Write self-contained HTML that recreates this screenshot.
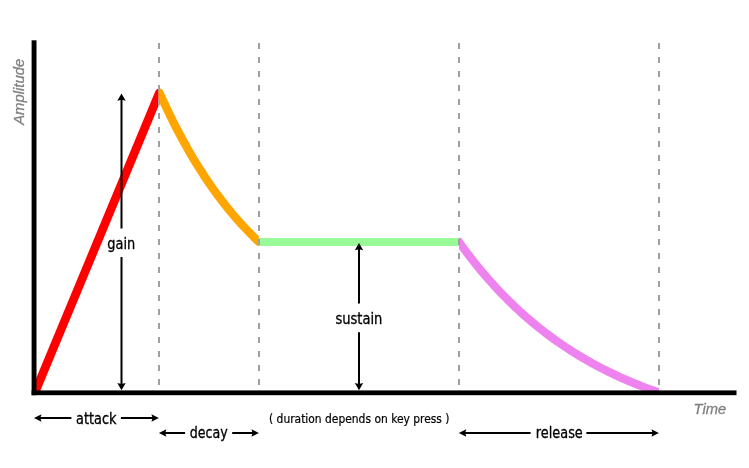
<!DOCTYPE html>
<html lang="en">
<head>
<meta charset="utf-8">
<title>ADSR envelope</title>
<style>
html,body{margin:0;padding:0;background:#fff;}
body{width:749px;height:468px;overflow:hidden;}
svg{display:block;}
.lbl{font-family:"DejaVu Sans Condensed","DejaVu Sans","Liberation Sans",sans-serif;font-stretch:condensed;font-size:15px;fill:#000;stroke:#000;stroke-width:0.3px;text-anchor:middle;}
.note{font-family:"DejaVu Sans Condensed","DejaVu Sans","Liberation Sans",sans-serif;font-stretch:condensed;font-size:12px;fill:#000;stroke:#000;stroke-width:0.2px;}
.axis{font-family:"Liberation Sans",Arial,Helvetica,sans-serif;font-style:italic;font-size:15px;fill:#808080;stroke:#808080;stroke-width:0.3px;}
</style>
</head>
<body>
<svg width="749" height="468" viewBox="0 0 749 468">
<defs>
<clipPath id="c1"><rect x="34" y="0" width="124.6" height="392"/></clipPath>
<clipPath id="c2"><rect x="158.6" y="0" width="100.3" height="468"/></clipPath>
<clipPath id="c4"><rect x="459" y="0" width="200" height="392"/></clipPath>
</defs>
<rect width="749" height="468" fill="#fff"/>
<g fill="none" stroke-width="8" stroke-linejoin="round" stroke-linecap="butt">
<path d="M34.90,392.60 L159.40,92.60 L161.06,96.30 L162.72,99.95 L164.38,103.55 L166.04,107.09" stroke="#ff0000" stroke-width="8.6" clip-path="url(#c1)"/>
<path d="M34.90,392.60 L159.40,92.60 L161.06,96.30 L162.72,99.95 L164.38,103.55 L166.04,107.09 L167.70,110.58 L169.36,114.02 L171.02,117.42 L172.68,120.76 L174.34,124.06 L176.00,127.31 L177.66,130.51 L179.32,133.66 L180.98,136.77 L182.64,139.84 L184.30,142.86 L185.96,145.84 L187.62,148.77 L189.28,151.67 L190.94,154.52 L192.60,157.33 L194.26,160.10 L195.92,162.83 L197.58,165.52 L199.24,168.17 L200.90,170.78 L202.56,173.36 L204.22,175.90 L205.88,178.40 L207.54,180.87 L209.20,183.30 L210.86,185.69 L212.52,188.05 L214.18,190.38 L215.84,192.67 L217.50,194.93 L219.16,197.16 L220.82,199.36 L222.48,201.52 L224.14,203.66 L225.80,205.76 L227.46,207.83 L229.12,209.87 L230.78,211.89 L232.44,213.87 L234.10,215.83 L235.76,217.75 L237.42,219.65 L239.08,221.53 L240.74,223.37 L242.40,225.19 L244.06,226.98 L245.72,228.75 L247.38,230.49 L249.04,232.21 L250.70,233.90 L252.36,235.57 L254.02,237.21 L255.68,238.83 L257.34,240.43 L259.00,242.00 L271.00,242.00" stroke="#ffa500" stroke-width="8.3" clip-path="url(#c2)"/>
<path d="M258.9,242 H459" stroke="#98fb98"/>
<path d="M444.00,242.00 L459.00,242.00 L462.33,246.61 L465.67,251.11 L469.00,255.51 L472.33,259.81 L475.67,264.01 L479.00,268.11 L482.33,272.12 L485.67,276.04 L489.00,279.86 L492.33,283.60 L495.67,287.25 L499.00,290.82 L502.33,294.30 L505.67,297.71 L509.00,301.03 L512.33,304.28 L515.67,307.45 L519.00,310.55 L522.33,313.58 L525.67,316.54 L529.00,319.43 L532.33,322.26 L535.67,325.02 L539.00,327.71 L542.33,330.35 L545.67,332.92 L549.00,335.43 L552.33,337.89 L555.67,340.29 L559.00,342.63 L562.33,344.92 L565.67,347.15 L569.00,349.34 L572.33,351.47 L575.67,353.56 L579.00,355.60 L582.33,357.59 L585.67,359.53 L589.00,361.43 L592.33,363.29 L595.67,365.10 L599.00,366.87 L602.33,368.60 L605.67,370.29 L609.00,371.94 L612.33,373.56 L615.67,375.13 L619.00,376.67 L622.33,378.18 L625.67,379.65 L629.00,381.08 L632.33,382.48 L635.67,383.85 L639.00,385.19 L642.33,386.50 L645.67,387.78 L649.00,389.03 L652.33,390.25 L655.67,391.44 L659.00,392.60" stroke="#ee82ee" stroke-width="8.3" stroke-linejoin="miter" stroke-miterlimit="10" clip-path="url(#c4)"/>
</g>
<rect x="31.6" y="40.3" width="4.9" height="354.9" fill="#000"/>
<rect x="31.6" y="390.4" width="704.9" height="4.8" fill="#000"/>
<g stroke="#a0a0a0" stroke-width="2" stroke-dasharray="6 8" fill="none"><line x1="159" y1="43" x2="159" y2="390" /><line x1="259" y1="43" x2="259" y2="390" /><line x1="459" y1="43" x2="459" y2="390" /><line x1="659" y1="43" x2="659" y2="390" /></g>
<path d="M121.5,97.4 V228.6 M121.5,257 V386.3" stroke="#000" stroke-width="2" fill="none"/><polygon points="121.5,93.4 117.3,100.7 121.5,99.7 125.7,100.7"/><polygon points="121.5,390.3 117.3,383.0 121.5,384.0 125.7,383.0"/>
<path d="M359,247 V303.4 M359,332.3 V386.3" stroke="#000" stroke-width="2" fill="none"/><polygon points="359,243 354.8,250.3 359,249.3 363.2,250.3"/><polygon points="359,390.3 354.8,383.0 359,384.0 363.2,383.0"/>
<path d="M38.0,418 H71.4 M120.9,418 H154.9" stroke="#000" stroke-width="2" fill="none"/><polygon points="34.0,418 41.5,414.2 40.3,418 41.5,421.8"/><polygon points="158.9,418 151.4,414.2 152.6,418 151.4,421.8"/>
<path d="M162.9,433 H185.1 M232.2,433 H254.9" stroke="#000" stroke-width="2" fill="none"/><polygon points="158.9,433 166.4,429.2 165.2,433 166.4,436.8"/><polygon points="258.9,433 251.4,429.2 252.6,433 251.4,436.8"/>
<path d="M462.8,433 H530.6 M586.4,433 H654.9" stroke="#000" stroke-width="2" fill="none"/><polygon points="458.8,433 466.3,429.2 465.1,433 466.3,436.8"/><polygon points="658.9,433 651.4,429.2 652.6,433 651.4,436.8"/>
<text class="lbl" x="121.3" y="248.8" textLength="28" lengthAdjust="spacingAndGlyphs">gain</text>
<text class="lbl" x="358.9" y="323.8" textLength="47" lengthAdjust="spacingAndGlyphs">sustain</text>
<text class="lbl" x="96.3" y="423.7" textLength="40.5" lengthAdjust="spacingAndGlyphs">attack</text>
<text class="lbl" x="208.8" y="438.2" textLength="38" lengthAdjust="spacingAndGlyphs">decay</text>
<text class="lbl" x="559.3" y="438.2" textLength="47" lengthAdjust="spacingAndGlyphs">release</text>
<text class="note" x="269" y="422.8" textLength="180.5" lengthAdjust="spacingAndGlyphs">( duration depends on key press )</text>
<text class="axis" x="693.6" y="413.8" textLength="32.5" lengthAdjust="spacingAndGlyphs">Time</text>
<text class="axis" transform="translate(24.2,124.8) rotate(-90)" textLength="66" lengthAdjust="spacingAndGlyphs">Amplitude</text>
</svg>
</body>
</html>
